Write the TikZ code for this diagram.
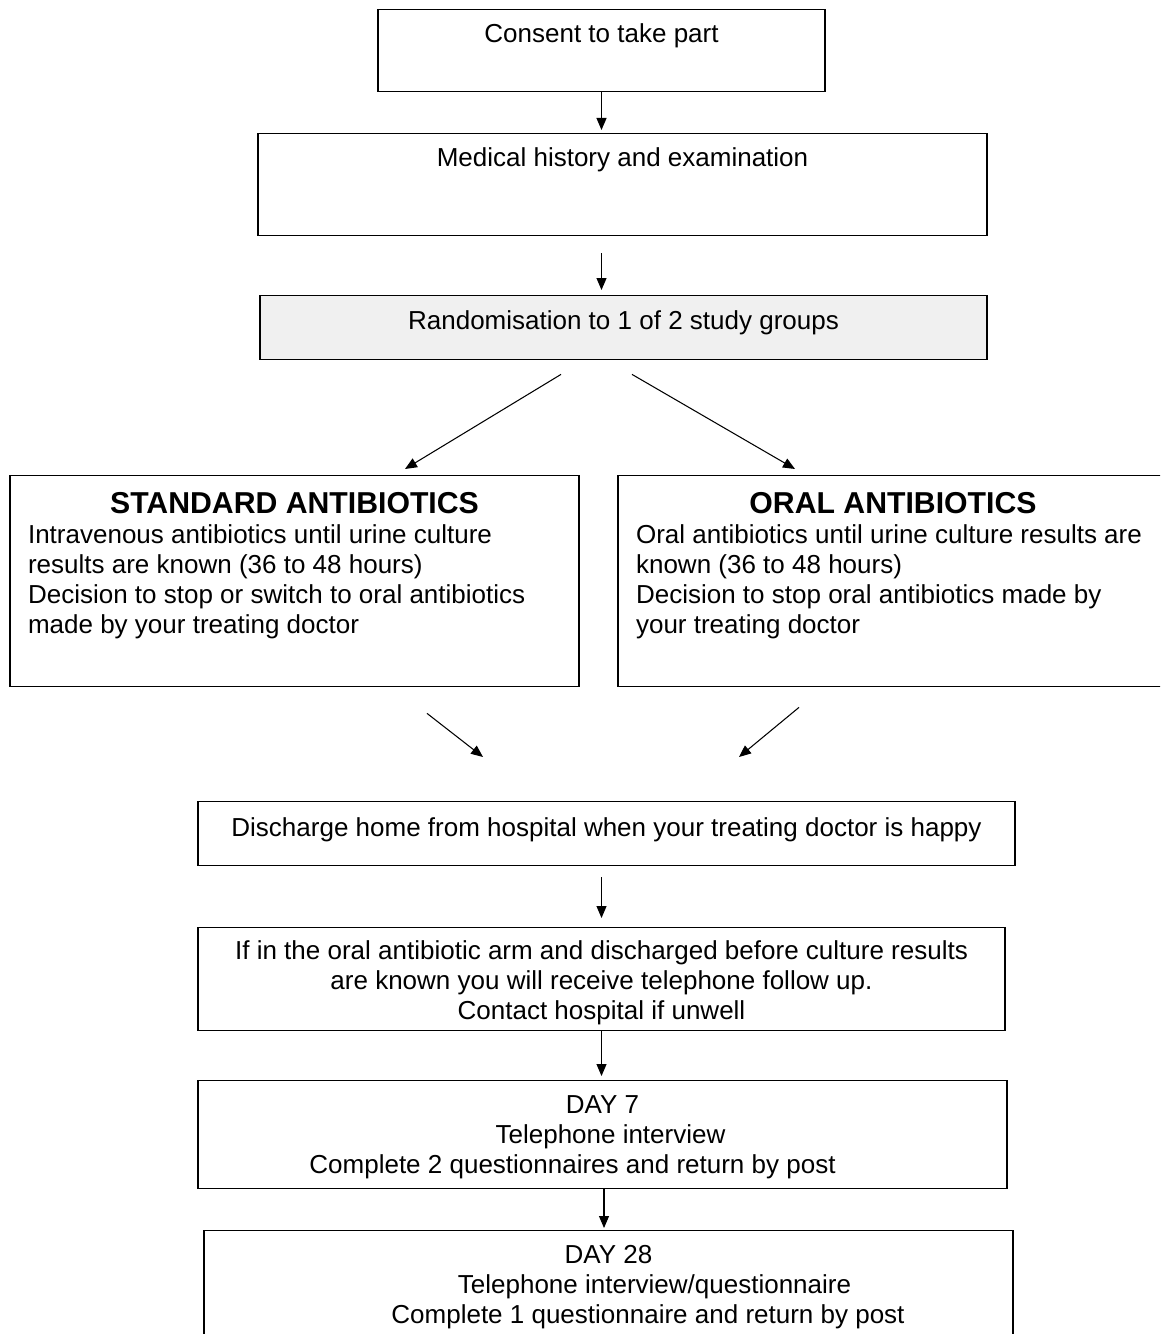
\documentclass[tikz,border=0pt]{standalone}
\usepackage{fontspec}
\setmainfont{Liberation Sans}
\usetikzlibrary{arrows.meta}

% text hanging from the top of a box: height, width, first baseline, text
\newcommand{\boxtext}[4]{\parbox[c][#1][t]{#2}{\centering\rule{0pt}{#3}#4}}
% the two study arms: width, title, body
\newcommand{\armtext}[3]{\parbox[c][4.22cm][t]{#1}{\centering\rule{0pt}{0.76cm}{\fontsize{17.2}{17}\selectfont\bfseries #2}\par
	\raggedright\leftskip=0.36cm #3}}

\begin{document}
\begin{tikzpicture}[x=0.02cm,y=-0.02cm,font=\fontsize{14.8}{17.07}\selectfont]
	\tikzset{stepbox/.style={draw, line width=0.8pt, inner sep=0pt, anchor=north}}
	\tikzset{flow/.style={-{Triangle[length=0.24cm,width=0.2cm]}, line width=0.6pt}}
	\useasboundingbox (0,0) rectangle (1160,1334);
	\clip (0,0) rectangle (1160,1334);
	% boxes
	\node[stepbox] (consent) at (601.5,9) {\boxtext{1.64cm}{8.94cm}{0.66cm}{Consent to take part}};
	\node[stepbox] (history) at (622.5,133) {\boxtext{2.04cm}{14.58cm}{0.66cm}{Medical history and examination}};
	\node[stepbox, fill={rgb,255:red,240;green,240;blue,240}] (rand) at (623.5,295) {\boxtext{1.28cm}{14.54cm}{0.68cm}{Randomisation to 1 of 2 study groups}};
	\node[stepbox] (standard) at (294.5,475) {\armtext{11.38cm}{STANDARD ANTIBIOTICS}{Intravenous antibiotics until urine culture\\
		results are known (36 to 48 hours)\\ Decision to stop or switch to oral antibiotics\\ made by your treating doctor}};
	\node[stepbox] (oral) at (893,475) {\armtext{11cm}{ORAL ANTIBIOTICS}{Oral antibiotics until urine culture results are\\
		known (36 to 48 hours)\\ Decision to stop oral antibiotics made by\\ your treating doctor}};
	\node[stepbox] (discharge) at (606.5,801) {\boxtext{1.28cm}{16.34cm}{0.70cm}{Discharge home from hospital when your treating doctor is happy}};
	\node[stepbox] (followup) at (601.5,927) {\boxtext{2.06cm}{16.14cm}{0.64cm}{If in the oral antibiotic arm and discharged before culture results\\
		are known you will receive telephone follow up.\\ Contact hospital if unwell}};
	\node[stepbox] (dayseven) at (602.5,1080) {\boxtext{2.16cm}{16.18cm}{0.66cm}{DAY 7\\ \hspace*{0.32cm}Telephone interview\\
		\hspace*{-1.2cm}Complete 2 questionnaires and return by post}};
	\node[stepbox] (daytwentyeight) at (608.5,1230) {\boxtext{2.2cm}{16.18cm}{0.66cm}{DAY 28\\ \hspace*{1.84cm}Telephone interview/questionnaire\\
		\hspace*{1.58cm}Complete 1 questionnaire and return by post}};
	% arrows
	\draw[flow, shorten >=0.06cm] (consent.south) -- (consent.south |- history.north);
	\draw[flow, shorten <=0.34cm, shorten >=0.1cm] (history.south -| consent.south) -- (consent.south |- rand.north);
	\draw[flow] ([xshift=-1.25cm,yshift=-0.28cm]rand.south) -- ([xshift=2.21cm,yshift=0.12cm]standard.north);
	\draw[flow] ([xshift=0.17cm,yshift=-0.28cm]rand.south) -- ([xshift=-1.96cm,yshift=0.12cm]oral.north);
	\draw[flow] ([xshift=2.65cm,yshift=-0.52cm]standard.south) -- ([xshift=-2.47cm,yshift=0.88cm]discharge.north);
	\draw[flow] ([xshift=-1.88cm,yshift=-0.4cm]oral.south) -- ([xshift=2.65cm,yshift=0.88cm]discharge.north);
	\draw[flow, shorten <=0.22cm, shorten >=0.18cm] (discharge.south -| followup.north) -- (followup.north);
	\draw[flow, shorten >=0.08cm] (followup.south) -- (followup.south |- dayseven.north);
	\draw[flow, shorten >=0.04cm] ([xshift=0.03cm]dayseven.south) -- ([xshift=0.03cm]dayseven.south |- daytwentyeight.north);
\end{tikzpicture}
\end{document}
